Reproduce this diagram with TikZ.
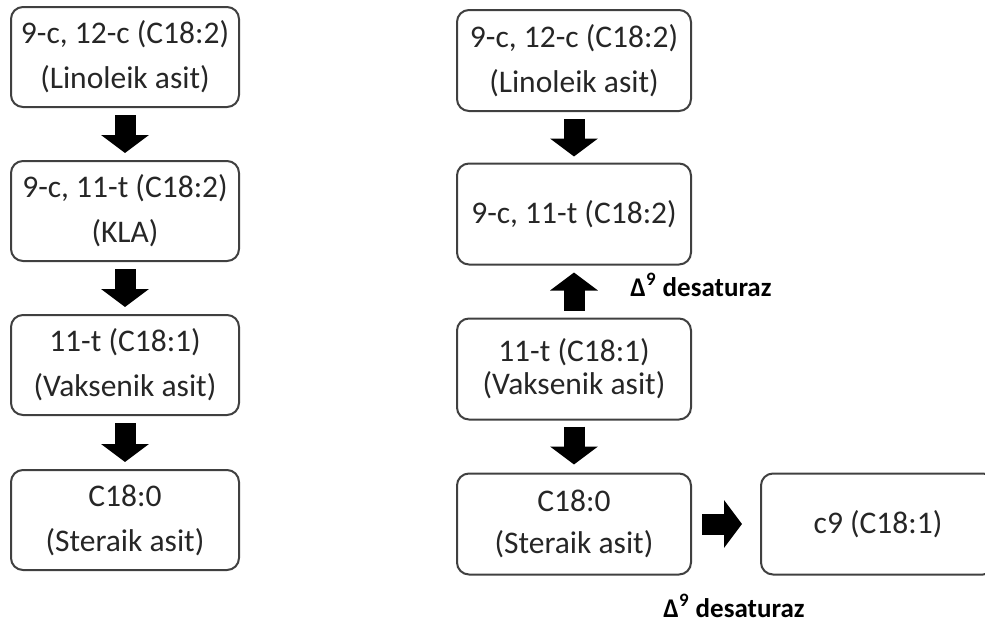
\documentclass[tikz,border=0pt]{standalone}
\usepackage{fontspec}
\setmainfont{Carlito}
\usetikzlibrary{arrows.meta}
\definecolor{edge}{HTML}{404040}
\definecolor{ink}{HTML}{262626}

\begin{document}
\begin{tikzpicture}[x=0.5pt,y=-0.5pt,
    stage/.style={draw=edge, line width=1pt, rounded corners=6pt, minimum width=114pt, minimum height=50pt, align=center, text=ink, inner sep=2pt, font=\fontsize{15.75}{22.5}\selectfont},
    widestage/.style={stage, minimum width=117pt, minimum height=50.5pt},
    enzyme/.style={font=\bfseries\fontsize{13.5}{15}\selectfont, text=black, inner sep=0pt},
    blockarrow/.style={line width=10.5pt, -{Triangle[length=9pt,width=23.5pt]}}]
  \useasboundingbox (0,0) rectangle (985,622);
  \clip (0,0) rectangle (985,622);
  \node[stage] (l1) at (125,57) {9-c, 12-c (C18:2)\\(Linoleik asit)};
  \node[stage] (l2) at (125,211) {9-c, 11-t (C18:2)\\(KLA)};
  \node[stage] (l3) at (125,365) {11-t (C18:1)\\(Vaksenik asit)};
  \node[stage] (l4) at (125,520) {C18:0\\(Steraik asit)};
  \draw[blockarrow] ([yshift=-3.5pt]l1.south) -- ([yshift=3.5pt]l2.north);
  \draw[blockarrow] ([yshift=-3.5pt]l2.south) -- ([yshift=3.5pt]l3.north);
  \draw[blockarrow] ([yshift=-3.5pt]l3.south) -- ([yshift=3.5pt]l4.north);
  \node[widestage] (r1) at (574,60.5) {9-c, 12-c (C18:2)\\(Linoleik asit)};
  \node[widestage] (r2) at (574,214) {9-c, 11-t (C18:2)};
  \node[widestage, font=\fontsize{15.75}{16.5}\selectfont] (r3) at (574,369) {11-t (C18:1)\\(Vaksenik asit)};
  \node[widestage, font=\fontsize{15.75}{21}\selectfont] (r4) at (574,524) {C18:0\\(Steraik asit)};
  \node[widestage] (r5) at (878,524) {c9 (C18:1)};
  \draw[blockarrow] ([yshift=-3.5pt]r1.south) -- ([yshift=3pt]r2.north);
  \draw[blockarrow] ([yshift=3.5pt]r3.north) -- ([yshift=-3.5pt]r2.south);
  \draw[blockarrow] ([yshift=-3pt]r3.south) -- ([yshift=4pt]r4.north);
  \draw[blockarrow] ([xshift=5pt]r4.east) -- ([xshift=-9pt]r5.west);
  \node[enzyme, anchor=base west] (d1) at (630,296) {Δ\textsuperscript{9} desaturaz};
  \node[enzyme, anchor=base] (d2) at (734,617) {Δ\textsuperscript{9} desaturaz};
\end{tikzpicture}
\end{document}
